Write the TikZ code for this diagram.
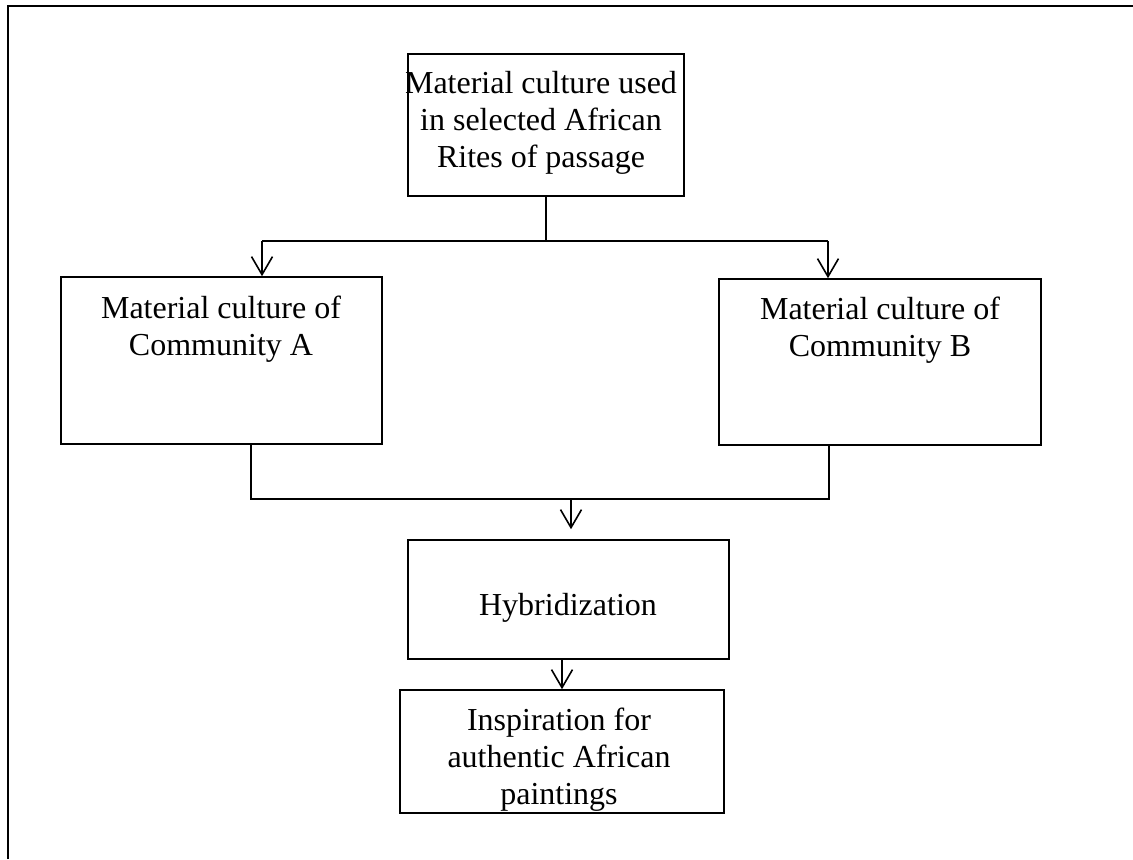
\documentclass[tikz,border=0pt]{standalone}
\usepackage{fontspec}
\setmainfont{Liberation Serif}
\usetikzlibrary{arrows.meta}

\begin{document}
\begin{tikzpicture}[x=0.5pt, y=-0.5pt,
		stagebox/.style={draw, line width=0.8pt, inner sep=0pt},
		stagetext/.style={anchor=base, align=center, inner sep=0pt, font=\fontsize{16}{18.4}\selectfont},
		flowline/.style={line width=0.8pt},
		flowarrow/.style={line width=0.8pt, -{Straight Barb[length=9pt, width=10.5pt, line width=0.8pt]}}]
			%%%%% START %%%%%
			
			\useasboundingbox (0, 0) rectangle (1133, 859);
			\draw[line width=1.1pt] (8, 859) -- (8, 6) -- (1133, 6);
			
			\node[stagebox, minimum width=138pt, minimum height=71pt] (rites) at (546, 125) {};
			\node[stagetext] (ritestext) at (541, 167) {Material culture used\\in selected African\\Rites of passage};
			
			\node[stagebox, minimum width=160.5pt, minimum height=83.5pt] (commA) at (221.5, 360.5) {};
			\node[stagetext] (commAtext) at (221, 355) {Material culture of\\Community A};
			
			\node[stagebox, minimum width=161pt, minimum height=83pt] (commB) at (880, 362) {};
			\node[stagetext] (commBtext) at (880, 356) {Material culture of\\Community B};
			
			\node[stagebox, minimum width=160.5pt, minimum height=59.5pt] (hybrid) at (568.5, 599.5) {};
			\node[stagetext] (hybridtext) at (568, 615) {Hybridization};
			
			\node[stagebox, minimum width=162pt, minimum height=61.5pt] (inspire) at (562, 751.5) {};
			\node[stagetext] (inspiretext) at (559, 804) {Inspiration for\\authentic African\\paintings};
			
			\coordinate (splitL) at (262, 241);
			\coordinate (splitR) at (828, 241);
			\coordinate (mergeL) at (251, 499);
			\coordinate (mergeR) at (829, 499);
			\coordinate (merge) at (571, 499);
			
			\draw[flowline] (rites.south) -- (rites.south |- splitL);
			\draw[flowline] (splitL) -- (splitR);
			\draw[flowarrow] (splitL) -- (splitL |- commA.north);
			\draw[flowarrow] (splitR) -- (splitR |- commB.north);
			
			\draw[flowline] (mergeL |- commA.south) -- (mergeL) -- (mergeR) -- (mergeR |- commB.south);
			\draw[flowarrow] (merge) -- ([yshift=5pt]merge |- hybrid.north);
			
			\draw[flowarrow] (inspire.north |- hybrid.south) -- (inspire.north);
			
			%%%%% END %%%%%
		\end{tikzpicture}
\end{document}
